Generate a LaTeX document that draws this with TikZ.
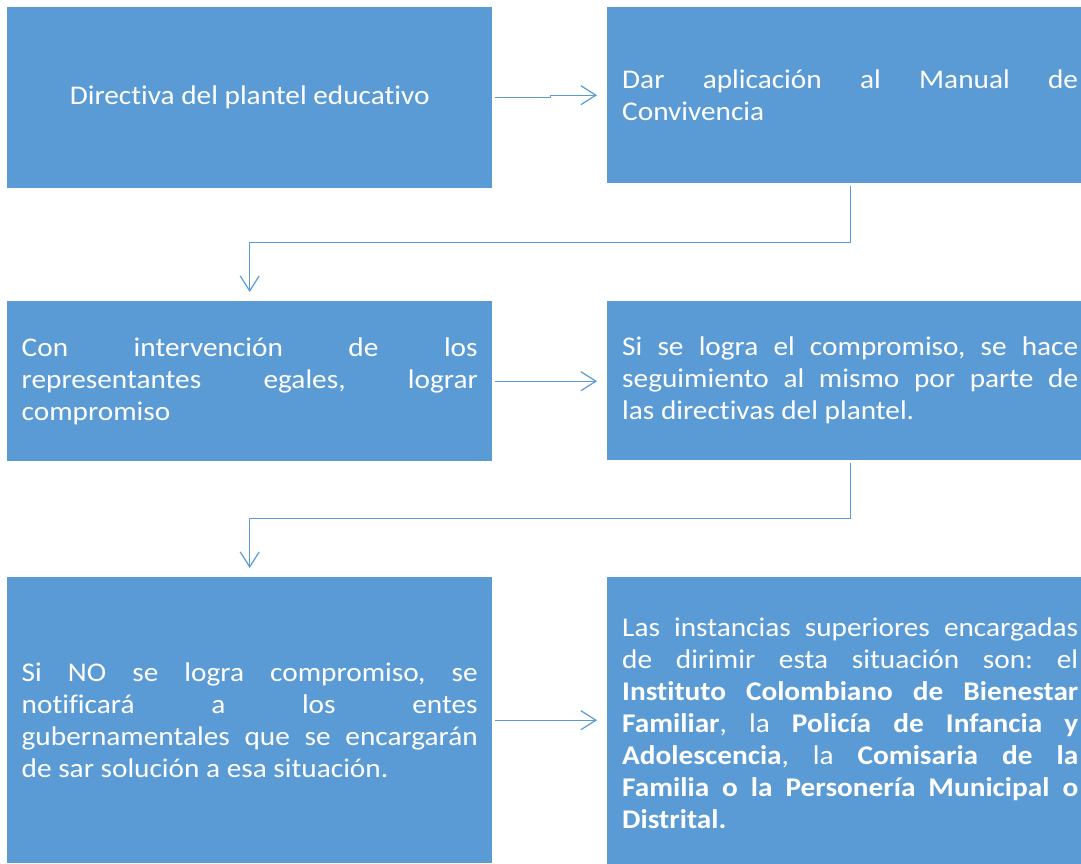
\documentclass[tikz,border=0pt]{standalone}
\usepackage{fontspec}
\setmainfont{Carlito}[FakeStretch=1.085, RawFeature={-liga;-clig;-calt}]
\usetikzlibrary{arrows.meta}
\definecolor{boxblue}{HTML}{5B9BD5}
\newcommand\jl[1]{\makebox[456pt][s]{#1}}
\frenchspacing
\begin{document}
\begin{tikzpicture}[x=1pt,y=-1pt,
  box/.style={fill=boxblue, draw=none, anchor=north west, inner sep=0pt,
    text=white, align=left, font=\fontsize{27}{32}\selectfont},
  conn/.style={draw=boxblue, line width=1.2pt,
    -{Straight Barb[length=15pt,width=19pt,line width=1.2pt]}}]
\clip (0,0) rectangle (1081,863);
\fill[white] (0,0) rectangle (1081,863);
\node[box, minimum width=485pt, minimum height=181pt] (b1) at (7,7)
  {Directiva del plantel educativo};
\node[box, minimum width=486pt, minimum height=176pt] (b2) at (607,7)
  {\jl{Dar aplicación al Manual de}\\Convivencia};
\node[box, minimum width=485pt, minimum height=160pt] (b3) at (7,301)
  {\jl{Con intervención de los}\\\jl{representantes egales, lograr}\\compromiso};
\node[box, minimum width=486pt, minimum height=159pt] (b4) at (607,301)
  {\jl{Si se logra el compromiso, se hace}\\\jl{seguimiento al mismo por parte de}\\las directivas del plantel.};
\node[box, minimum width=485pt, minimum height=286pt] (b5) at (7,577)
  {\jl{Si NO se logra compromiso, se}\\\jl{notificará a los entes}\\\jl{gubernamentales que se encargarán}\\de sar solución a esa situación.};
\node[box, minimum width=486pt, minimum height=292pt] (b6) at (607,577)
  {\jl{Las instancias superiores encargadas}\\
   \jl{de dirimir esta situación son: el}\\
   \jl{\textbf{Instituto Colombiano de Bienestar}}\\
   \jl{\textbf{Familiar}, la \textbf{Policía de Infancia y}}\\
   \jl{\textbf{Adolescencia}, la \textbf{Comisaria de la}}\\
   \jl{\textbf{Familia o la Personería Municipal o}}\\
   \textbf{Distrital.}};
\draw[conn] ([xshift=3pt]b1.east) -- ++(55,0) |- ([xshift=-10pt]b2.west);
\draw[conn] ([yshift=-3pt]b2.south) -- ++(0,56) -| ([yshift=9pt]b3.north);
\draw[conn] ([xshift=3pt]b3.east) -- ([xshift=-10pt]b3.east -| b4.west);
\draw[conn] ([yshift=-3pt]b4.south) -- ++(0,55) -| ([yshift=9pt]b5.north);
\draw[conn] ([xshift=3pt]b5.east) -- ([xshift=-10pt]b5.east -| b6.west);
\end{tikzpicture}
\end{document}
